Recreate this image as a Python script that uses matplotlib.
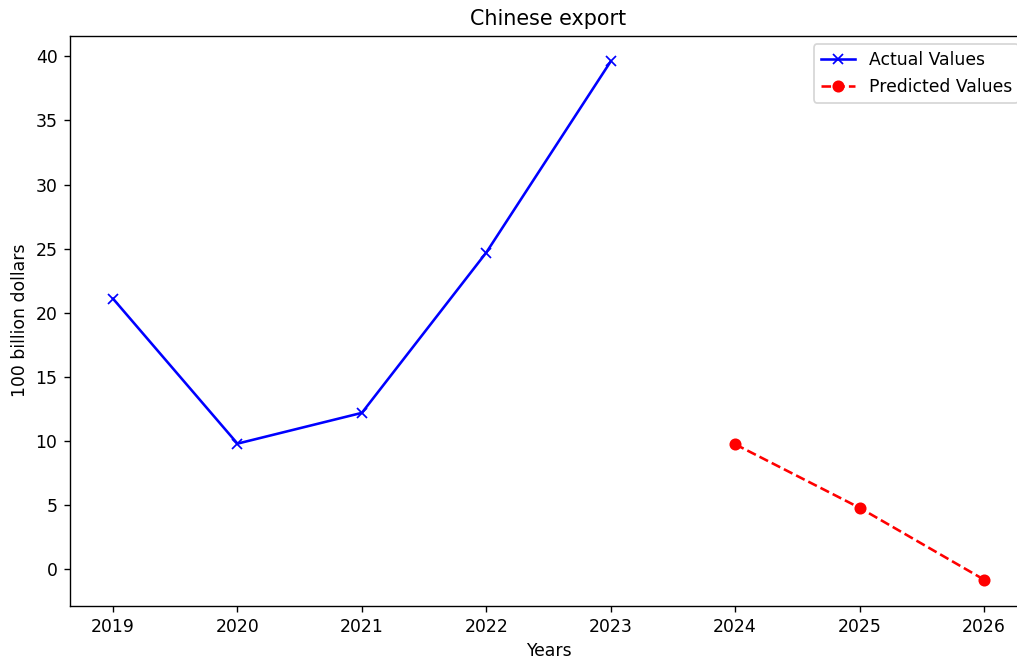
import matplotlib
matplotlib.use("Agg")
import matplotlib.pyplot as plt

actual_years = [2019, 2020, 2021, 2022, 2023]
actual_values = [21.1, 9.8, 12.2, 24.7, 39.6]
pred_years = [2024, 2025, 2026]
pred_values = [9.75, 4.8, -0.8]

DPI = 124
fig = plt.figure(figsize=(1017/DPI, 661/DPI), dpi=DPI)
ax = fig.add_axes([69.5/1017, 55.5/661, 958/1017, 570/661])
ax.plot(actual_years, actual_values, color='blue', marker='x', linestyle='-', label='Actual Values')
ax.plot(pred_years, pred_values, color='red', marker='o', linestyle='--', label='Predicted Values')
ax.set_title('Chinese export')
ax.set_xlabel('Years')
ax.set_ylabel('100 billion dollars')
ax.set_xticks(actual_years + pred_years)
ax.legend(loc='upper right')
fig.savefig('out.png', dpi=DPI)
